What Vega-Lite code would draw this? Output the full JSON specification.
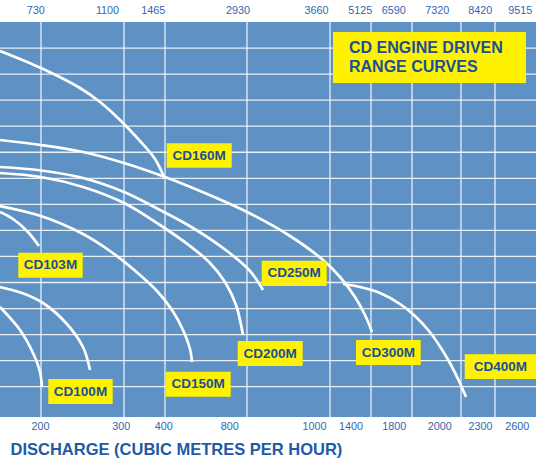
{
  "$schema": "https://vega.github.io/schema/vega-lite/v6.json",
  "width": 536,
  "height": 395,
  "autosize": "none",
  "padding": {"left": 0, "top": 22, "right": 0, "bottom": 42},
  "background": "white",
  "config": {"view": {"fill": "#5E92C5", "stroke": null}, "font": "Liberation Sans"},
  "resolve": {"axis": {"x": "independent", "y": "independent"}},
  "datasets": {
    "vgrid": [{"gx": 4.1}, {"gx": 12.4}, {"gx": 16.5}, {"gx": 24.7}, {"gx": 33.0}, {"gx": 37.1}, {"gx": 41.2}, {"gx": 46.1}, {"gx": 49.5}],
    "hgrid": [{"gy": 3.03}, {"gy": 5.635}, {"gy": 8.24}, {"gy": 10.845}, {"gy": 13.45}, {"gy": 16.055}, {"gy": 18.66}, {"gy": 21.265}, {"gy": 23.87}, {"gy": 26.475}, {"gy": 29.08}, {"gy": 31.685}, {"gy": 34.29}, {"gy": 36.895}],
    "curves": [
      {"curve": "CD160M", "x": 0, "y": 36.6}, {"curve": "CD160M", "x": 4.1, "y": 34.9}, {"curve": "CD160M", "x": 8.0, "y": 32.9}, {"curve": "CD160M", "x": 10.0, "y": 31.5}, {"curve": "CD160M", "x": 12.0, "y": 29.7}, {"curve": "CD160M", "x": 14.0, "y": 27.6}, {"curve": "CD160M", "x": 15.5, "y": 25.8}, {"curve": "CD160M", "x": 16.4, "y": 24.0},
      {"curve": "CD300M", "x": 0, "y": 27.7}, {"curve": "CD300M", "x": 4.1, "y": 27.2}, {"curve": "CD300M", "x": 8.3, "y": 26.5}, {"curve": "CD300M", "x": 12.4, "y": 25.4}, {"curve": "CD300M", "x": 16.5, "y": 24.0}, {"curve": "CD300M", "x": 20.0, "y": 22.6}, {"curve": "CD300M", "x": 24.7, "y": 20.5}, {"curve": "CD300M", "x": 29.0, "y": 18.1}, {"curve": "CD300M", "x": 32.3, "y": 15.7}, {"curve": "CD300M", "x": 34.0, "y": 14.0}, {"curve": "CD300M", "x": 35.5, "y": 12.0}, {"curve": "CD300M", "x": 36.5, "y": 10.2}, {"curve": "CD300M", "x": 37.2, "y": 8.5},
      {"curve": "CD250M", "x": 0, "y": 25.0}, {"curve": "CD250M", "x": 4.1, "y": 24.65}, {"curve": "CD250M", "x": 8.3, "y": 23.9}, {"curve": "CD250M", "x": 12.4, "y": 22.5}, {"curve": "CD250M", "x": 16.0, "y": 20.7}, {"curve": "CD250M", "x": 19.3, "y": 18.9}, {"curve": "CD250M", "x": 22.7, "y": 16.6}, {"curve": "CD250M", "x": 25.0, "y": 14.6}, {"curve": "CD250M", "x": 26.3, "y": 12.7},
      {"curve": "CD200M", "x": 0, "y": 24.4}, {"curve": "CD200M", "x": 4.1, "y": 24.0}, {"curve": "CD200M", "x": 8.3, "y": 23.0}, {"curve": "CD200M", "x": 12.4, "y": 21.4}, {"curve": "CD200M", "x": 16.0, "y": 19.2}, {"curve": "CD200M", "x": 19.0, "y": 17.1}, {"curve": "CD200M", "x": 21.0, "y": 15.4}, {"curve": "CD200M", "x": 22.5, "y": 13.5}, {"curve": "CD200M", "x": 23.6, "y": 11.2}, {"curve": "CD200M", "x": 24.3, "y": 8.2},
      {"curve": "CD150M", "x": 0, "y": 21.1}, {"curve": "CD150M", "x": 4.1, "y": 20.1}, {"curve": "CD150M", "x": 8.3, "y": 18.3}, {"curve": "CD150M", "x": 11.0, "y": 16.6}, {"curve": "CD150M", "x": 13.3, "y": 14.8}, {"curve": "CD150M", "x": 15.7, "y": 12.6}, {"curve": "CD150M", "x": 17.2, "y": 10.7}, {"curve": "CD150M", "x": 18.3, "y": 8.7}, {"curve": "CD150M", "x": 19.0, "y": 6.8}, {"curve": "CD150M", "x": 19.2, "y": 5.5},
      {"curve": "CD103M", "x": 0, "y": 20.5}, {"curve": "CD103M", "x": 1.3, "y": 19.8}, {"curve": "CD103M", "x": 2.7, "y": 18.6}, {"curve": "CD103M", "x": 3.9, "y": 17.1},
      {"curve": "CD100M-b", "x": 0, "y": 13.0}, {"curve": "CD100M-b", "x": 2.2, "y": 12.4}, {"curve": "CD100M-b", "x": 4.3, "y": 11.4}, {"curve": "CD100M-b", "x": 6.6, "y": 9.4}, {"curve": "CD100M-b", "x": 8.3, "y": 7.0}, {"curve": "CD100M-b", "x": 9.0, "y": 4.7},
      {"curve": "CD100M", "x": 0, "y": 11.0}, {"curve": "CD100M", "x": 2.0, "y": 8.7}, {"curve": "CD100M", "x": 3.3, "y": 6.4}, {"curve": "CD100M", "x": 4.0, "y": 4.5}, {"curve": "CD100M", "x": 4.2, "y": 3.0},
      {"curve": "CD400M", "x": 34.3, "y": 13.3}, {"curve": "CD400M", "x": 36.0, "y": 13.0}, {"curve": "CD400M", "x": 38.0, "y": 12.4}, {"curve": "CD400M", "x": 40.0, "y": 11.3}, {"curve": "CD400M", "x": 41.5, "y": 10.1}, {"curve": "CD400M", "x": 42.9, "y": 8.6}, {"curve": "CD400M", "x": 44.1, "y": 6.9}, {"curve": "CD400M", "x": 45.1, "y": 5.2}, {"curve": "CD400M", "x": 45.9, "y": 3.6}, {"curve": "CD400M", "x": 46.6, "y": 2.0}
    ],
    "boxes": [
      {"label": "CD160M", "x1": 16.67, "x2": 23.17, "y1": 27.37, "y2": 24.93},
      {"label": "CD103M", "x1": 1.83, "x2": 8.27, "y1": 16.43, "y2": 13.93},
      {"label": "CD100M", "x1": 4.83, "x2": 11.27, "y1": 3.8, "y2": 1.3},
      {"label": "CD150M", "x1": 16.57, "x2": 23.07, "y1": 4.53, "y2": 2.03},
      {"label": "CD200M", "x1": 23.77, "x2": 30.27, "y1": 7.6, "y2": 5.1},
      {"label": "CD250M", "x1": 26.17, "x2": 32.67, "y1": 15.63, "y2": 13.1},
      {"label": "CD300M", "x1": 35.6, "x2": 42.07, "y1": 7.7, "y2": 5.2},
      {"label": "CD400M", "x1": 46.47, "x2": 53.6, "y1": 6.27, "y2": 3.8}
    ],
    "titlebox": [{"x1": 33.3, "x2": 52.6, "y1": 38.5, "y2": 33.4}],
    "titletext": [
      {"t": "CD ENGINE DRIVEN", "x": 34.9, "y": 36.87},
      {"t": "RANGE CURVES", "x": 34.9, "y": 35.03}
    ]
  },
  "layer": [
    {
      "data": {"name": "vgrid"},
      "mark": {"type": "rule", "color": "#FFFFFF", "strokeWidth": 1.3, "opacity": 0.85},
      "encoding": {
        "x": {
          "field": "gx", "type": "quantitative",
          "scale": {"domain": [0, 53.6], "nice": false, "zero": false},
          "axis": {
            "orient": "top",
            "values": [3.53, 10.7, 15.27, 23.75, 31.6, 35.97, 39.33, 43.68, 47.97, 51.97],
            "labelExpr": "datum.value < 5 ? '730' : datum.value < 13 ? '1100' : datum.value < 20 ? '1465' : datum.value < 27 ? '2930' : datum.value < 34 ? '3660' : datum.value < 37.5 ? '5125' : datum.value < 41 ? '6590' : datum.value < 46 ? '7320' : datum.value < 50 ? '8420' : '9515'",
            "domain": false, "ticks": false, "tickSize": 0, "grid": false,
            "labelPadding": 11.7, "labelBaseline": "middle", "labelFontSize": 10.8,
            "labelColor": "#2F67B1", "labelFlush": false, "labelOverlap": false, "labelBound": false,
            "title": null
          }
        }
      }
    },
    {
      "data": {"name": "hgrid"},
      "mark": {"type": "rule", "color": "#FFFFFF", "strokeWidth": 1.3, "opacity": 0.85},
      "encoding": {
        "y": {"field": "gy", "type": "quantitative", "scale": {"domain": [0, 39.5], "nice": false, "zero": false}, "axis": null}
      }
    },
    {
      "data": {"name": "curves"},
      "mark": {"type": "line", "color": "#FFFFFF", "strokeWidth": 2.7, "interpolate": "catmull-rom"},
      "encoding": {
        "x": {
          "field": "x", "type": "quantitative",
          "scale": {"domain": [0, 53.6], "nice": false, "zero": false},
          "axis": {
            "orient": "bottom",
            "values": [4.0, 12.08, 16.33, 22.92, 31.4, 35.05, 39.38, 43.93, 48.0, 51.67],
            "labelExpr": "datum.value < 8 ? '200' : datum.value < 14 ? '300' : datum.value < 20 ? '400' : datum.value < 27 ? '800' : datum.value < 33 ? '1000' : datum.value < 37 ? '1400' : datum.value < 41.5 ? '1800' : datum.value < 46 ? '2000' : datum.value < 50 ? '2300' : '2600'",
            "domain": false, "ticks": false, "tickSize": 0, "grid": false,
            "labelPadding": 9, "labelBaseline": "middle", "labelFontSize": 10.8,
            "labelColor": "#2F67B1", "labelFlush": false, "labelOverlap": false, "labelBound": false,
            "title": "DISCHARGE (CUBIC METRES PER HOUR)",
            "titleFontSize": 16.5, "titleFontWeight": "bold", "titleColor": "#1D5BA6",
            "titleX": 10, "titleY": 37, "titleAlign": "left", "titleAnchor": "start", "titleBaseline": "alphabetic"
          }
        },
        "y": {"field": "y", "type": "quantitative", "scale": {"domain": [0, 39.5], "nice": false, "zero": false}, "axis": null},
        "detail": {"field": "curve", "type": "nominal"}
      }
    },
    {
      "data": {"name": "boxes"},
      "mark": {"type": "rect", "color": "#FFF200"},
      "encoding": {
        "x": {"field": "x1", "type": "quantitative", "axis": null},
        "x2": {"field": "x2"},
        "y": {"field": "y1", "type": "quantitative", "axis": null},
        "y2": {"field": "y2"}
      }
    },
    {
      "data": {"name": "boxes"},
      "transform": [
        {"calculate": "(datum.x1 + datum.x2) / 2", "as": "tx"},
        {"calculate": "(datum.y1 + datum.y2) / 2", "as": "ty"}
      ],
      "mark": {"type": "text", "font": "Liberation Sans", "fontWeight": "bold", "fontSize": 13.5, "color": "#1A4F97", "align": "center", "baseline": "middle"},
      "encoding": {
        "x": {"field": "tx", "type": "quantitative", "axis": null},
        "y": {"field": "ty", "type": "quantitative", "axis": null},
        "text": {"field": "label"}
      }
    },
    {
      "data": {"name": "titlebox"},
      "mark": {"type": "rect", "color": "#FFF200"},
      "encoding": {
        "x": {"field": "x1", "type": "quantitative", "axis": null},
        "x2": {"field": "x2"},
        "y": {"field": "y1", "type": "quantitative", "axis": null},
        "y2": {"field": "y2"}
      }
    },
    {
      "data": {"name": "titletext"},
      "mark": {"type": "text", "font": "Liberation Sans", "fontWeight": "bold", "fontSize": 16, "color": "#1A4F97", "align": "left", "baseline": "middle"},
      "encoding": {
        "x": {"field": "x", "type": "quantitative", "axis": null},
        "y": {"field": "y", "type": "quantitative", "axis": null},
        "text": {"field": "t"}
      }
    }
  ]
}
